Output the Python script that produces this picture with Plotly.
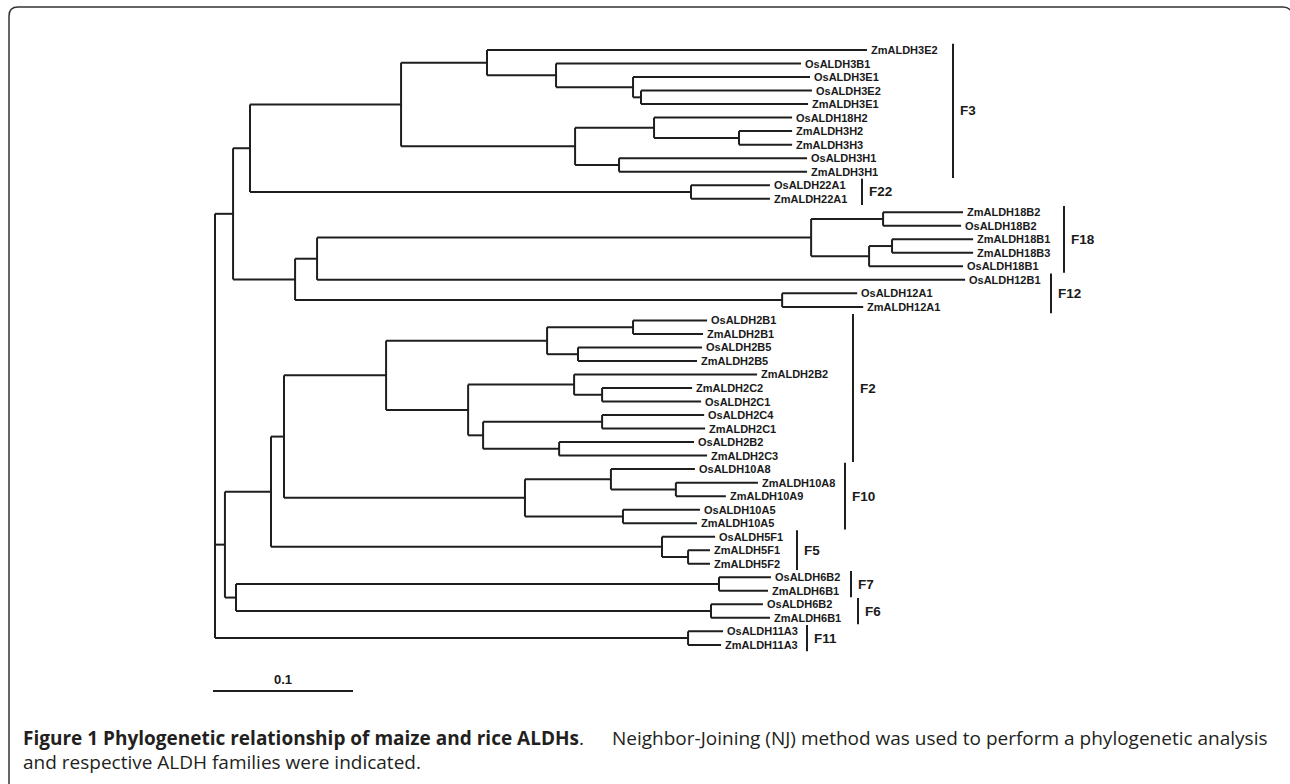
import plotly.graph_objects as go

# ---------------- data: NJ tree (branch lengths, substitutions/site) ----------------
F3_CLADE = ("((ZmALDH3E2:0.2714,(OsALDH3B1:0.1750,(OsALDH3E1:0.1264,(OsALDH3E2:0.1221,ZmALDH3E1:0.1193):0.0057):0.0550):0.0493):0.0614,"
            "((OsALDH18H2:0.0986,(ZmALDH3H2:0.0379,ZmALDH3H3:0.0379):0.0607):0.0564,(OsALDH3H1:0.1343,ZmALDH3H1:0.1343):0.0314):0.1243):0.1079")
F22_CLADE = "(OsALDH22A1:0.0564,ZmALDH22A1:0.0564):0.3150"
F18_CLADE = ("((ZmALDH18B2:0.0571,OsALDH18B2:0.0557):0.0514,((ZmALDH18B1:0.0579,ZmALDH18B3:0.0579):0.0164,OsALDH18B1:0.0671):0.0414):0.3529")
F12_CLADE = "(OsALDH12A1:0.0536,ZmALDH12A1:0.0579):0.3479"
F2_CLADE = ("(((OsALDH2B1:0.0529,ZmALDH2B1:0.0500):0.0614,(OsALDH2B5:0.0886,ZmALDH2B5:0.0850):0.0221):0.1150,"
            "((ZmALDH2B2:0.1307,(ZmALDH2C2:0.0643,OsALDH2C1:0.0707):0.0200):0.0757,"
            "((OsALDH2C4:0.0729,ZmALDH2C1:0.0736):0.0850,(OsALDH2B2:0.0964,ZmALDH2C3:0.1057):0.0543):0.0107):0.0586):0.0729")
F10_CLADE = "((OsALDH10A8:0.0600,(ZmALDH10A8:0.0586,ZmALDH10A9:0.0357):0.0464):0.0614,(OsALDH10A5:0.0550,ZmALDH10A5:0.0529):0.0700):0.1721"
F5_CLADE = "(OsALDH5F1:0.0379,(ZmALDH5F1:0.0157,ZmALDH5F2:0.0157):0.0186):0.2793"
F7_CLADE = "(OsALDH6B2:0.0371,ZmALDH6B1:0.0350):0.3450"
F6_CLADE = "(OsALDH6B2:0.0371,ZmALDH6B1:0.0421):0.3393"
F11_CLADE = "(OsALDH11A3:0.0250,ZmALDH11A3:0.0236):0.3379"

NEWICK = ("(((" + F3_CLADE + "," + F22_CLADE + "):0.0121,((" + F18_CLADE + ",OsALDH12B1:0.4629):0.0157," + F12_CLADE + "):0.0443):0.0129,"
          "(((" + F2_CLADE + "," + F10_CLADE + "):0.0093," + F5_CLADE + "):0.0329,(" + F7_CLADE + "," + F6_CLADE + "):0.0079):0.0071,"
          + F11_CLADE + ");")

FAMILY_NAMES = ["F3", "F22", "F18", "F12", "F2", "F10", "F5", "F7", "F6", "F11"]
FAMILY_FIRST_LEAF = [0, 10, 12, 17, 20, 31, 36, 39, 41, 43]
FAMILY_LAST_LEAF = [9, 11, 16, 19, 30, 35, 38, 40, 42, 44]
SCALE_BAR_LENGTH = 0.1
SCALE_BAR_LABEL = "0.1"

CAPTION_BOLD = "Figure 1 Phylogenetic relationship of maize and rice ALDHs"
CAPTION_LINE1_REST = "Neighbor-Joining (NJ) method was used to perform a phylogenetic analysis"
CAPTION_LINE2 = "and respective ALDH families were indicated."

# ---------------- layout / style constants ----------------
W, H = 1290, 784
ROOT_PX = 215.0
PX_PER_UNIT = 1400.0
LEAF0_PX = 50.0
LEAF_STEP_PX = 13.52
BRACKET_PX = {"F3": 953, "F22": 862, "F18": 1064, "F12": 1051, "F2": 853,
              "F10": 845, "F5": 797, "F7": 851, "F6": 858, "F11": 807}
LINE_COLOR = "#1e1e1e"
TREE_FONT = "Liberation Sans, Arial, sans-serif"
CAP_FONT = "Open Sans, sans-serif"
CAP_SIZE = 19


def parse_newick(s):
    s = s.replace(" ", "").replace("\n", "")
    pos = 0

    def node():
        nonlocal pos
        n = {"children": [], "name": "", "length": 0.0}
        if s[pos] == "(":
            pos += 1
            while True:
                n["children"].append(node())
                if s[pos] == ",":
                    pos += 1
                    continue
                pos += 1  # ')'
                break
        start = pos
        while s[pos] not in ",():;":
            pos += 1
        n["name"] = s[start:pos]
        if s[pos] == ":":
            pos += 1
            start = pos
            while s[pos] not in ",();":
                pos += 1
            n["length"] = float(s[start:pos])
        return n

    return node()


tree = parse_newick(NEWICK)
leaves = []


def layout(n, x0):
    n["x"] = x0 + n["length"]
    if not n["children"]:
        n["y"] = len(leaves)
        leaves.append(n)
    else:
        for c in n["children"]:
            layout(c, n["x"])
        n["y"] = (n["children"][0]["y"] + n["children"][-1]["y"]) / 2.0


tree["length"] = 0.0
layout(tree, 0.0)

xs, ys = [], []


def segments(n):
    if not n["children"]:
        return
    xs.extend([n["x"], n["x"], None])
    ys.extend([n["children"][0]["y"], n["children"][-1]["y"], None])
    for c in n["children"]:
        xs.extend([n["x"], c["x"], None])
        ys.extend([c["y"], c["y"], None])
        segments(c)


segments(tree)

fig = go.Figure()
fig.add_trace(go.Scatter(x=xs, y=ys, mode="lines",
                         line=dict(color=LINE_COLOR, width=2),
                         hoverinfo="skip", showlegend=False))

annotations = []
for lf in leaves:
    annotations.append(dict(x=lf["x"], y=lf["y"], xref="x", yref="y", text=lf["name"],
                            showarrow=False, xanchor="left", yanchor="middle", xshift=2,
                            font=dict(family=TREE_FONT, size=11, color="#1a1a1a", weight="bold")))


def px_to_x(px):
    return (px - ROOT_PX) / PX_PER_UNIT


# family brackets
bx, by = [], []
for name, a, b in zip(FAMILY_NAMES, FAMILY_FIRST_LEAF, FAMILY_LAST_LEAF):
    xb = px_to_x(BRACKET_PX[name])
    y0, y1 = a - 0.47, b + 0.47
    bx.extend([xb, xb, None])
    by.extend([y0, y1, None])
    annotations.append(dict(x=xb, y=(y0 + y1) / 2, xref="x", yref="y", text=name,
                            showarrow=False, xanchor="left", yanchor="middle", xshift=5,
                            font=dict(family=TREE_FONT, size=13.5, color="#1a1a1a", weight="bold")))
fig.add_trace(go.Scatter(x=bx, y=by, mode="lines", line=dict(color=LINE_COLOR, width=2),
                         hoverinfo="skip", showlegend=False))

# scale bar
bar_y = (691 - LEAF0_PX) / LEAF_STEP_PX
bar_x0 = px_to_x(213)
fig.add_trace(go.Scatter(x=[bar_x0, bar_x0 + SCALE_BAR_LENGTH], y=[bar_y, bar_y], mode="lines",
                         line=dict(color=LINE_COLOR, width=2), hoverinfo="skip", showlegend=False))
annotations.append(dict(x=bar_x0 + SCALE_BAR_LENGTH / 2, y=bar_y, xref="x", yref="y",
                        text=SCALE_BAR_LABEL, showarrow=False, xanchor="center", yanchor="bottom",
                        yshift=2, font=dict(family=TREE_FONT, size=13, color="#1a1a1a", weight="bold")))

# caption
annotations.append(dict(x=21 / W, y=1 - 738 / H, xref="paper", yref="paper",
                        text="<b>" + CAPTION_BOLD + "</b>.",
                        showarrow=False, xanchor="left", yanchor="middle",
                        font=dict(family=CAP_FONT, size=CAP_SIZE, color="#231f20")))
annotations.append(dict(x=1270 / W, y=1 - 738 / H, xref="paper", yref="paper",
                        text=CAPTION_LINE1_REST,
                        showarrow=False, xanchor="right", yanchor="middle",
                        font=dict(family=CAP_FONT, size=CAP_SIZE, color="#231f20")))
annotations.append(dict(x=21 / W, y=1 - 762 / H, xref="paper", yref="paper",
                        text=CAPTION_LINE2,
                        showarrow=False, xanchor="left", yanchor="middle",
                        font=dict(family=CAP_FONT, size=CAP_SIZE, color="#231f20")))


def P(px, py):
    return f"{px / W:.5f},{1 - py / H:.5f}"


frame_path = ("M " + P(9, 784) + " L " + P(9, 16) + " Q " + P(9, 7) + " " + P(18, 7) +
              " L " + P(1283, 7) + " Q " + P(1288, 7) + " " + P(1290, 10))

fig.update_layout(
    width=W, height=H,
    margin=dict(l=0, r=0, t=0, b=0),
    paper_bgcolor="white", plot_bgcolor="white",
    xaxis=dict(range=[px_to_x(0), px_to_x(W)], visible=False, fixedrange=True),
    yaxis=dict(range=[(H - LEAF0_PX) / LEAF_STEP_PX, -LEAF0_PX / LEAF_STEP_PX],
               visible=False, fixedrange=True),
    annotations=annotations,
    shapes=[dict(type="path", xref="paper", yref="paper", path=frame_path,
                 line=dict(color="#333333", width=1.5))],
)

fig.write_html("out.html", config={"displayModeBar": False},
               post_script="document.body.style.margin='0';document.body.style.overflow='hidden';")
